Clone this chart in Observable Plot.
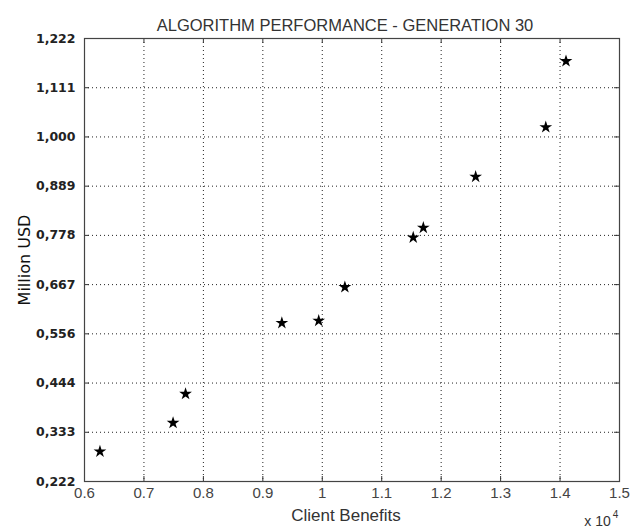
<!DOCTYPE html>
<html>
<head>
<meta charset="utf-8">
<script src="https://cdn.jsdelivr.net/npm/d3@7"></script>
<script src="https://cdn.jsdelivr.net/npm/@observablehq/plot@0.6"></script>
<style>
  html, body { margin: 0; padding: 0; background: #fff; }
</style>
</head>
<body>
<div id="chart"></div>
<script>
// ---- data ----
const titleText = "ALGORITHM PERFORMANCE - GENERATION 30";
const xLabelText = "Client Benefits";
const yLabelText = "Million USD";
const clientBenefits = [6260, 7490, 7700, 9320, 9940, 10380, 11530, 11700, 12580, 13760, 14100];
const millionUSD = [0.290, 0.3545, 0.420, 0.580, 0.585, 0.661, 0.773, 0.795, 0.910, 1.022, 1.171];
const xTicks = [6000, 7000, 8000, 9000, 10000, 11000, 12000, 13000, 14000, 15000];
const xTickLabels = ["0.6", "0.7", "0.8", "0.9", "1", "1.1", "1.2", "1.3", "1.4", "1.5"];
const yTicks = [2/9, 3/9, 4/9, 5/9, 6/9, 7/9, 8/9, 9/9, 10/9, 11/9];
const yTickLabels = ["0,222", "0,333", "0,444", "0,556", "0,667", "0,778", "0,889", "1,000", "1,111", "1,222"];
const exponentBase = "x 10";
const exponentPower = "4";

const points = clientBenefits.map((x, i) => ({x, y: millionUSD[i]}));
const xLab = new Map(xTicks.map((v, i) => [v, xTickLabels[i]]));
const yLab = new Map(yTicks.map((v, i) => [v, yTickLabels[i]]));

const W = 634, H = 531;
const mL = 84, mR = 15, mT = 38, mB = 50;
const frameW = W - mL - mR, frameH = H - mT - mB;
const tickLen = 5;

const chart = Plot.plot({
  width: W,
  height: H,
  marginLeft: mL,
  marginRight: mR,
  marginTop: mT,
  marginBottom: mB,
  style: {background: "#fff", fontFamily: "Liberation Sans, Arial, sans-serif"},
  x: {domain: [6000, 15000]},
  y: {domain: [2/9, 11/9]},
  marks: [
    // dotted grid
    Plot.ruleX(xTicks, {x: d => d, stroke: "#222", strokeDasharray: "1,3", strokeWidth: 1}),
    Plot.ruleY(yTicks, {y: d => d, stroke: "#222", strokeDasharray: "1,3", strokeWidth: 1}),
    // inward ticks
    Plot.ruleX(xTicks, {x: d => d, insetTop: frameH - tickLen, stroke: "#333"}),
    Plot.ruleX(xTicks, {x: d => d, insetBottom: frameH - tickLen, stroke: "#333"}),
    Plot.ruleY(yTicks, {y: d => d, insetRight: frameW - tickLen, stroke: "#333"}),
    Plot.ruleY(yTicks, {y: d => d, insetLeft: frameW - tickLen, stroke: "#333"}),
    Plot.frame({stroke: "#444", strokeWidth: 1.2}),
    // axes labels
    Plot.axisX(xTicks, {tickSize: 0, tickPadding: 6, tickFormat: d => xLab.get(d), fontSize: 15, fill: "#444", label: null}),
    Plot.axisY(yTicks, {tickSize: 0, tickPadding: 9, tickFormat: d => yLab.get(d), fontSize: 12.5, fontWeight: "bold", fill: "#222", fontFamily: "DejaVu Sans", label: null}),
    // data
    Plot.dot(points, {x: "x", y: "y", symbol: "star", r: 4, fill: "#000", stroke: "none"}),
    // title & labels
    Plot.text([titleText], {text: d => d, frameAnchor: "top", dx: -7, dy: -19, fontSize: 16.5, fill: "#333"}),
    Plot.text([xLabelText], {text: d => d, frameAnchor: "bottom", dx: -6, dy: 39, fontSize: 17, fill: "#333"}),
    Plot.text([yLabelText], {text: d => d, frameAnchor: "middle", dx: -(frameW / 2 + 60), rotate: -90, fontSize: 16, fill: "#111", fontFamily: "DejaVu Sans"}),
    Plot.text([exponentBase], {text: d => d, frameAnchor: "bottom", dx: frameW / 2 - 22, dy: 44, fontSize: 14, fill: "#333"}),
    Plot.text([exponentPower], {text: d => d, frameAnchor: "bottom", dx: frameW / 2 - 4, dy: 36, fontSize: 10, fill: "#333"})
  ]
});
document.getElementById("chart").appendChild(chart);
</script>
</body>
</html>
